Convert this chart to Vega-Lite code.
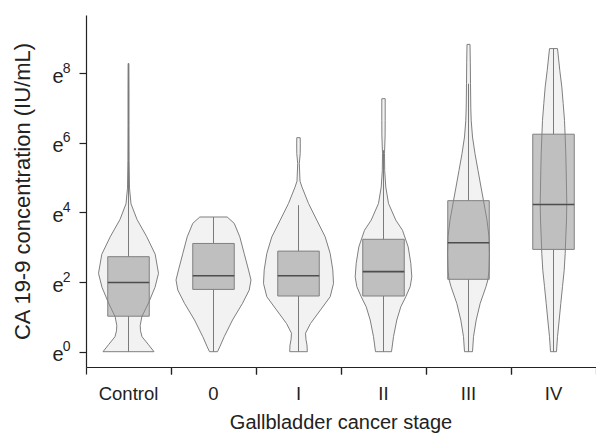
{
  "$schema": "https://vega.github.io/schema/vega-lite/v6.json",
  "padding": {"left": 11, "top": 15, "right": 0, "bottom": 0},
  "background": "white",
  "config": {
    "view": {"stroke": null},
    "font": "Liberation Sans",
    "axis": {"grid": false, "domainColor": "#222222", "tickColor": "#222222", "domainWidth": 1.2, "tickWidth": 1.2, "labelColor": "#222222", "titleColor": "#222222", "labelFont": "Liberation Sans", "titleFont": "Liberation Sans", "titleFontWeight": "normal"}
  },
  "data": {"values": [
    {"stage": "Control", "v": 0, "w": 51}, {"stage": "Control", "v": 0.2, "w": 40}, {"stage": "Control", "v": 0.43, "w": 27}, {"stage": "Control", "v": 0.6, "w": 24}, {"stage": "Control", "v": 0.75, "w": 23.4}, {"stage": "Control", "v": 1.0, "w": 26.6}, {"stage": "Control", "v": 1.4, "w": 40}, {"stage": "Control", "v": 1.85, "w": 53}, {"stage": "Control", "v": 2.25, "w": 60}, {"stage": "Control", "v": 2.8, "w": 53.4}, {"stage": "Control", "v": 3.3, "w": 36.6}, {"stage": "Control", "v": 3.8, "w": 17}, {"stage": "Control", "v": 4.25, "w": 5}, {"stage": "Control", "v": 4.7, "w": 2}, {"stage": "Control", "v": 5.5, "w": 1.2}, {"stage": "Control", "v": 6.5, "w": 1}, {"stage": "Control", "v": 7.5, "w": 1}, {"stage": "Control", "v": 8.28, "w": 0.8},
    {"stage": "0", "v": 0, "w": 8}, {"stage": "0", "v": 0.14, "w": 12.6}, {"stage": "0", "v": 0.43, "w": 21.4}, {"stage": "0", "v": 0.91, "w": 38}, {"stage": "0", "v": 1.39, "w": 58}, {"stage": "0", "v": 1.77, "w": 71.4}, {"stage": "0", "v": 2.06, "w": 75}, {"stage": "0", "v": 2.35, "w": 70}, {"stage": "0", "v": 2.82, "w": 61.4}, {"stage": "0", "v": 3.3, "w": 52.6}, {"stage": "0", "v": 3.69, "w": 41.4}, {"stage": "0", "v": 3.87, "w": 27.4},
    {"stage": "I", "v": 0, "w": 17.6}, {"stage": "I", "v": 0.19, "w": 17}, {"stage": "I", "v": 0.34, "w": 15}, {"stage": "I", "v": 0.53, "w": 14}, {"stage": "I", "v": 0.81, "w": 24}, {"stage": "I", "v": 1.2, "w": 44}, {"stage": "I", "v": 1.58, "w": 63.4}, {"stage": "I", "v": 1.96, "w": 70}, {"stage": "I", "v": 2.35, "w": 68.6}, {"stage": "I", "v": 2.82, "w": 63.4}, {"stage": "I", "v": 3.3, "w": 53.4}, {"stage": "I", "v": 3.78, "w": 36.6}, {"stage": "I", "v": 4.26, "w": 20}, {"stage": "I", "v": 4.73, "w": 7}, {"stage": "I", "v": 4.9, "w": 3}, {"stage": "I", "v": 5.41, "w": 1.6}, {"stage": "I", "v": 5.69, "w": 3.4}, {"stage": "I", "v": 5.97, "w": 3.6}, {"stage": "I", "v": 6.15, "w": 3.4},
    {"stage": "II", "v": 0, "w": 16}, {"stage": "II", "v": 0.43, "w": 20}, {"stage": "II", "v": 0.91, "w": 26.6}, {"stage": "II", "v": 1.29, "w": 34.6}, {"stage": "II", "v": 1.58, "w": 44.6}, {"stage": "II", "v": 1.87, "w": 53.4}, {"stage": "II", "v": 2.15, "w": 56.6}, {"stage": "II", "v": 2.54, "w": 54.6}, {"stage": "II", "v": 3.01, "w": 49.4}, {"stage": "II", "v": 3.49, "w": 38}, {"stage": "II", "v": 3.78, "w": 24.6}, {"stage": "II", "v": 4.26, "w": 10}, {"stage": "II", "v": 4.73, "w": 4.6}, {"stage": "II", "v": 5.2, "w": 2.4}, {"stage": "II", "v": 5.69, "w": 2}, {"stage": "II", "v": 6.2, "w": 3.2}, {"stage": "II", "v": 6.65, "w": 3.4}, {"stage": "II", "v": 7.0, "w": 3.4}, {"stage": "II", "v": 7.27, "w": 3.4},
    {"stage": "III", "v": 0, "w": 8}, {"stage": "III", "v": 0.43, "w": 10}, {"stage": "III", "v": 0.91, "w": 15.4}, {"stage": "III", "v": 1.39, "w": 23.4}, {"stage": "III", "v": 1.87, "w": 35}, {"stage": "III", "v": 2.08, "w": 39}, {"stage": "III", "v": 2.34, "w": 41}, {"stage": "III", "v": 2.82, "w": 42}, {"stage": "III", "v": 3.3, "w": 41}, {"stage": "III", "v": 3.78, "w": 37}, {"stage": "III", "v": 4.34, "w": 30}, {"stage": "III", "v": 4.73, "w": 25}, {"stage": "III", "v": 5.21, "w": 19}, {"stage": "III", "v": 5.69, "w": 13}, {"stage": "III", "v": 6.17, "w": 8}, {"stage": "III", "v": 6.65, "w": 5.4}, {"stage": "III", "v": 7.0, "w": 4.6}, {"stage": "III", "v": 7.7, "w": 4}, {"stage": "III", "v": 8.3, "w": 3.6}, {"stage": "III", "v": 8.83, "w": 3},
    {"stage": "IV", "v": 0, "w": 6}, {"stage": "IV", "v": 0.43, "w": 8}, {"stage": "IV", "v": 0.91, "w": 11.4}, {"stage": "IV", "v": 1.39, "w": 14.6}, {"stage": "IV", "v": 1.87, "w": 18}, {"stage": "IV", "v": 2.34, "w": 21.4}, {"stage": "IV", "v": 2.82, "w": 23.4}, {"stage": "IV", "v": 3.3, "w": 24.6}, {"stage": "IV", "v": 3.78, "w": 26}, {"stage": "IV", "v": 4.26, "w": 26.6}, {"stage": "IV", "v": 4.73, "w": 26}, {"stage": "IV", "v": 5.21, "w": 25.4}, {"stage": "IV", "v": 5.69, "w": 24.6}, {"stage": "IV", "v": 6.17, "w": 23.4}, {"stage": "IV", "v": 6.65, "w": 22}, {"stage": "IV", "v": 7.13, "w": 19.4}, {"stage": "IV", "v": 7.61, "w": 16.6}, {"stage": "IV", "v": 8.08, "w": 12.6}, {"stage": "IV", "v": 8.71, "w": 8},
    {"stage": "Control", "q1": 1.02, "med": 1.99, "q3": 2.73, "lo": 0, "hi": 8.28},
    {"stage": "0", "q1": 1.79, "med": 2.18, "q3": 3.11, "lo": 0, "hi": 3.87},
    {"stage": "I", "q1": 1.6, "med": 2.18, "q3": 2.89, "lo": 0, "hi": 4.21},
    {"stage": "II", "q1": 1.6, "med": 2.3, "q3": 3.23, "lo": 0, "hi": 5.79},
    {"stage": "III", "q1": 2.08, "med": 3.13, "q3": 4.34, "lo": 0, "hi": 7.7},
    {"stage": "IV", "q1": 2.94, "med": 4.23, "q3": 6.25, "lo": 0, "hi": 8.71}
  ]},
  "transform": [
    {"stack": "w", "groupby": ["stage", "v"], "offset": "center", "as": ["x0", "x1"]}
  ],
  "facet": {
    "column": {
      "field": "stage", "type": "nominal",
      "sort": ["Control", "0", "I", "II", "III", "IV"],
      "title": "Gallbladder cancer stage",
      "header": {"labelOrient": "bottom", "titleOrient": "bottom", "labelFontSize": 18.5, "titleFontSize": 20, "titleFontWeight": "normal", "labelColor": "#222222", "titleColor": "#222222", "labelFont": "Liberation Sans", "titleFont": "Liberation Sans", "labelPadding": 10, "titlePadding": -1}
    }
  },
  "spacing": 0,
  "spec": {
    "width": 85,
    "height": 352,
    "resolve": {"axis": {"y": "independent"}},
    "layer": [
      {
        "transform": [{"filter": "isValid(datum.w)"}],
        "mark": {"type": "area", "orient": "horizontal", "fill": "#f2f2f2", "stroke": "#7f7f7f", "strokeWidth": 1},
        "encoding": {
          "y": {"field": "v", "type": "quantitative", "scale": {"domain": [-0.44, 9.675], "nice": false, "zero": false}, "title": "CA 19-9 concentration (IU/mL)",
            "axis": {"orient": "left", "values": [0, 2, 4, 6, 8], "labelExpr": "'e'", "labelFontSize": 20, "labelOffset": 3, "tickSize": 7, "labelPadding": 16, "titleFontSize": 22, "titlePadding": 17}},
          "x": {"field": "x0", "type": "quantitative", "scale": {"domain": [-5, 80], "nice": false, "zero": false},
            "axis": {"values": [-5, 80], "labels": false, "title": null, "tickSize": 7}},
          "x2": {"field": "x1"}
        }
      },
      {
        "transform": [{"filter": "isValid(datum.q1)"}],
        "mark": {"type": "rule", "color": "#7a7a7a", "strokeWidth": 1},
        "encoding": {
          "x": {"datum": 37.5, "type": "quantitative"},
          "y": {"field": "lo", "type": "quantitative", "axis": null},
          "y2": {"field": "q1"}
        }
      },
      {
        "transform": [{"filter": "isValid(datum.q1)"}],
        "mark": {"type": "rule", "color": "#7a7a7a", "strokeWidth": 1},
        "encoding": {
          "x": {"datum": 37.5, "type": "quantitative"},
          "y": {"field": "q3", "type": "quantitative", "axis": null},
          "y2": {"field": "hi"}
        }
      },
      {
        "transform": [{"filter": "isValid(datum.q1)"}],
        "mark": {"type": "rect", "fill": "#8c8c8c", "fillOpacity": 0.5, "stroke": "#808080", "strokeWidth": 1},
        "encoding": {
          "x": {"datum": 16.75, "type": "quantitative"},
          "x2": {"datum": 58.25},
          "y": {"field": "q1", "type": "quantitative", "axis": null},
          "y2": {"field": "q3"}
        }
      },
      {
        "transform": [{"filter": "isValid(datum.q1)"}],
        "mark": {"type": "rule", "color": "#4d4d4d", "strokeWidth": 1.6},
        "encoding": {
          "x": {"datum": 16.75, "type": "quantitative"},
          "x2": {"datum": 58.25},
          "y": {"field": "med", "type": "quantitative", "title": null,
            "axis": {"orient": "left", "values": [0, 2, 4, 6, 8], "domain": false, "tickColor": "transparent", "tickSize": 7, "labelPadding": 9, "labelFontSize": 14, "labelBaseline": "alphabetic", "labelOffset": -1, "title": null}}
        }
      }
    ]
  }
}
